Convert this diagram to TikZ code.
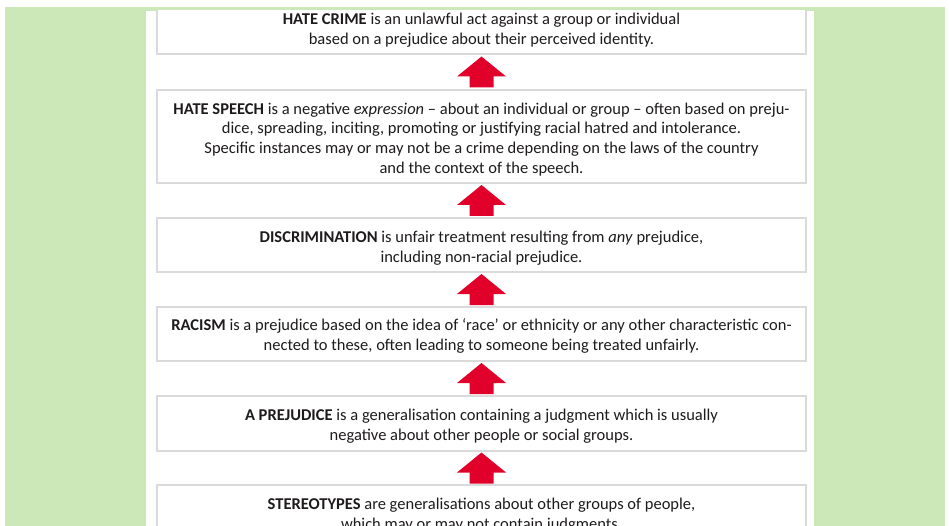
\documentclass[tikz,border=0pt]{standalone}
\usepackage{fontspec}
\usetikzlibrary{calc}
\setmainfont{Carlito}
\definecolor{bggreen}{HTML}{CDE8B8}
\definecolor{boxline}{HTML}{DADADA}
\definecolor{arrowred}{HTML}{E0002A}
\definecolor{txt}{HTML}{1E1B1C}
\tikzset{
  defbox/.style={draw=boxline, line width=1.4pt, fill=white, minimum width=649pt,
    inner sep=0pt},
  deftext/.style={inner sep=0pt, align=center, text=txt,
    font=\fontsize{16.5}{19.8}\selectfont},
  uparrow/.pic={\fill[arrowred] (-12,15.5) -- (-12,4.5) -- (-24.5,4.5) -- (0,-15.5)
    -- (24.5,4.5) -- (12,4.5) -- (12,15.5) -- cycle;}
}
\begin{document}
\begin{tikzpicture}[x=1pt,y=-1pt]
\useasboundingbox (0,0) rectangle (949,526);
\fill[white] (0,0) rectangle (949,526);
\fill[bggreen] (5,7) rectangle (945,526);
\fill[white] (146,11) rectangle (814,526);
\begin{scope}
\clip (146,11) rectangle (814,526);
\node[defbox, minimum height=54pt] (b1) at (481.5,27) {};
\node[defbox, minimum height=93pt] (b2) at (481.5,136.5) {};
\node[defbox, minimum height=54pt] (b3) at (481.5,245) {};
\node[defbox, minimum height=54pt] (b4) at (481.5,334) {};
\node[defbox, minimum height=55pt] (b5) at (481.5,423.5) {};
\node[defbox, minimum height=54pt] (b6) at (481.5,512) {};
\node[deftext] (t1) at ([yshift=-3pt]b1.center)
  {\textbf{HATE CRIME} is an unlawful act against a group or individual\\
   based on a prejudice about their perceived identity.};
\node[deftext] (t2) at ([yshift=-3pt]b2.center)
  {\textbf{HATE SPEECH} is a negative \textit{expression} – about an individual or group – often based on preju-\\
   dice, spreading, inciting, promoting or justifying racial hatred and intolerance.\\
   Specific instances may or may not be a crime depending on the laws of the country\\
   and the context of the speech.};
\node[deftext] (t3) at ([yshift=-3pt]b3.center)
  {\textbf{DISCRIMINATION} is unfair treatment resulting from \textit{any} prejudice,\\
   including non-racial prejudice.};
\node[deftext] (t4) at ([yshift=-2pt]b4.center)
  {\textbf{RACISM} is a prejudice based on the idea of ‘race’ or ethnicity or any other characteristic con-\\
   nected to these, often leading to someone being treated unfairly.};
\node[deftext] (t5) at ([yshift=-3pt]b5.center)
  {\textbf{A PREJUDICE} is a generalisation containing a judgment which is usually\\
   negative about other people or social groups.};
\node[deftext] (t6) at ([yshift=-3pt]b6.center)
  {\textbf{STEREOTYPES} are generalisations about other groups of people,\\
   which may or may not contain judgments.};
\end{scope}
\path ($(b1.south)!0.5!(b2.north)$) pic {uparrow};
\path ($(b2.south)!0.5!(b3.north)$) pic {uparrow};
\path ($(b3.south)!0.5!(b4.north)$) pic {uparrow};
\path ($(b4.south)!0.5!(b5.north)$) pic {uparrow};
\path ($(b5.south)!0.5!(b6.north)$) pic {uparrow};
\end{tikzpicture}
\end{document}
